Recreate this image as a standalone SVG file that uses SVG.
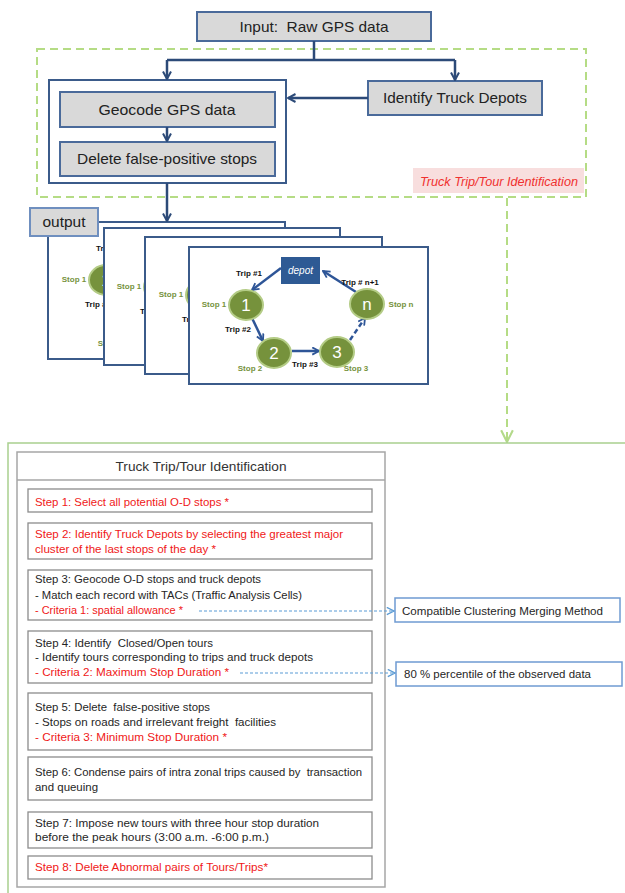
<svg xmlns="http://www.w3.org/2000/svg" xmlns:xlink="http://www.w3.org/1999/xlink" width="625" height="893" viewBox="0 0 625 893">
<style>
text{white-space:pre}
.gbox{fill:#d9d9d9;stroke:#4a6a9a;stroke-width:2}
.ttl{font-family:"Liberation Sans",Arial,sans-serif;font-size:15px;fill:#222;text-anchor:middle}
.conn{fill:none;stroke:#2c4a78;stroke-width:2.5}
.card{fill:#fff;stroke:#3b5b8a;stroke-width:2}
.node{fill:#76923c;stroke:#b4cc86;stroke-width:2}
.ntx{font-family:"Liberation Sans",Arial,sans-serif;font-size:17px;fill:#fff;text-anchor:middle}
.stop{font-family:"Liberation Sans",Arial,sans-serif;font-size:8px;font-weight:bold;fill:#76923c;text-anchor:middle}
.trip{font-family:"Liberation Sans",Arial,sans-serif;font-size:8px;font-weight:bold;fill:#111;text-anchor:middle}
.tarr{fill:none;stroke:#2e5597;stroke-width:2.5}
.step{fill:#fff;stroke:#8c8c8c;stroke-width:1.3}
.st{font-family:"Liberation Sans",Arial,sans-serif;font-size:11.5px;fill:#262626}
.red{fill:#f01818}
.side{fill:#fff;stroke:#6f9bd2;stroke-width:1.5}
.bd{fill:none;stroke:#5b9bd5;stroke-width:1.2;stroke-dasharray:3,2}
</style>
<defs>
<marker id="ah" viewBox="0 0 10 10" refX="9" refY="5" markerWidth="10" markerHeight="10" markerUnits="userSpaceOnUse" orient="auto"><path d="M1.5,1 L9,5 L1.5,9" fill="none" stroke="#2c4a78" stroke-width="2"/></marker>
<marker id="ah2" viewBox="0 0 10 10" refX="9" refY="5" markerWidth="9" markerHeight="9" markerUnits="userSpaceOnUse" orient="auto"><path d="M1.5,1 L9,5 L1.5,9" fill="none" stroke="#2e5597" stroke-width="2"/></marker>
<marker id="ahg" viewBox="0 0 12 12" refX="11" refY="6" markerWidth="14" markerHeight="14" markerUnits="userSpaceOnUse" orient="auto"><path d="M1,1 L11,6 L1,11" fill="none" stroke="#b3d98a" stroke-width="1.8"/></marker>
<marker id="ahb" viewBox="0 0 10 10" refX="9" refY="5" markerWidth="9" markerHeight="9" markerUnits="userSpaceOnUse" orient="auto"><path d="M1,1 L9,5 L1,9" fill="none" stroke="#5b9bd5" stroke-width="1.5"/></marker>
<g id="tour">
<line class="tarr" x1="281" y1="268" x2="252" y2="290" marker-end="url(#ah2)"/>
<line class="tarr" x1="252" y1="318" x2="263" y2="341" marker-end="url(#ah2)"/>
<line class="tarr" x1="292" y1="351" x2="319" y2="351" marker-end="url(#ah2)"/>
<line class="tarr" x1="350" y1="340" x2="365" y2="318" stroke-dasharray="5,3" marker-end="url(#ah2)"/>
<line class="tarr" x1="356" y1="292" x2="323" y2="271" marker-end="url(#ah2)"/>
<rect x="281" y="257" width="39" height="27" fill="#2e5a94"/>
<text x="300.5" y="274" font-family="Liberation Sans,Arial,sans-serif" font-size="10" font-style="italic" fill="#fff" text-anchor="middle">depot</text>
<ellipse class="node" cx="246" cy="305" rx="17" ry="15"/>
<ellipse class="node" cx="367" cy="304" rx="17" ry="15"/>
<ellipse class="node" cx="274" cy="353" rx="17" ry="15"/>
<ellipse class="node" cx="337" cy="352" rx="17" ry="15"/>
<text class="ntx" x="246" y="311">1</text>
<text class="ntx" x="367" y="310">n</text>
<text class="ntx" x="274" y="359">2</text>
<text class="ntx" x="337" y="358">3</text>
<text class="stop" x="214" y="307">Stop 1</text>
<text class="stop" x="401" y="307">Stop n</text>
<text class="stop" x="250" y="371">Stop 2</text>
<text class="stop" x="356" y="371">Stop 3</text>
<text class="trip" x="249" y="276">Trip #1</text>
<text class="trip" x="238" y="332">Trip #2</text>
<text class="trip" x="305" y="367">Trip #3</text>
<text class="trip" x="360" y="285">Trip # n+1</text>
</g>
</defs>

<g id="tripTourFrame">
<rect x="37" y="49" width="549" height="148" fill="none" stroke="#b5dc85" stroke-width="2" stroke-dasharray="8,5"/>
<rect x="413" y="168" width="171" height="25" fill="#f8dede"/>
<text x="499" y="186" font-family="Liberation Sans,Arial,sans-serif" font-size="12" font-style="italic" fill="#f0302f" text-anchor="middle" textLength="158" lengthAdjust="spacingAndGlyphs">Truck Trip/Tour Identification</text>
</g>

<g id="input">
<rect class="gbox" x="197" y="12" width="234" height="29"/>
<text class="ttl" x="314" y="32" textLength="149" lengthAdjust="spacingAndGlyphs">Input:  Raw GPS data</text>
</g>
<g id="container">
<rect x="49" y="80" width="237" height="103" fill="#fff" stroke="#3b5b8a" stroke-width="2"/>
</g>
<g id="geocode">
<rect class="gbox" x="60" y="92" width="215" height="35"/>
<text class="ttl" x="167" y="115" textLength="137" lengthAdjust="spacingAndGlyphs">Geocode GPS data</text>
</g>
<g id="delete">
<rect class="gbox" x="60" y="142" width="215" height="34"/>
<text class="ttl" x="167" y="164" textLength="180" lengthAdjust="spacingAndGlyphs">Delete false-positive stops</text>
</g>
<g id="depots">
<rect class="gbox" x="368" y="81" width="174" height="34"/>
<text class="ttl" x="455" y="103" textLength="144" lengthAdjust="spacingAndGlyphs">Identify Truck Depots</text>
</g>

<g id="cards">
<rect class="card" x="48" y="222" width="237" height="137"/>
<use xlink:href="#tour" href="#tour" transform="translate(-140,-25)"/>
<rect class="card" x="104" y="228" width="236" height="137"/>
<use xlink:href="#tour" href="#tour" transform="translate(-85,-18)"/>
<rect class="card" x="145" y="237" width="237" height="137"/>
<use xlink:href="#tour" href="#tour" transform="translate(-43,-10)"/>
<rect class="card" x="189" y="247" width="239" height="137"/>
<use xlink:href="#tour" href="#tour"/>
</g>
<g id="output">
<rect x="30" y="208" width="68" height="28" fill="#d9d9d9" stroke="#6f8fbf" stroke-width="2"/>
<text x="64" y="227" font-family="Liberation Sans,Arial,sans-serif" font-size="14" fill="#222" text-anchor="middle" textLength="43" lengthAdjust="spacingAndGlyphs">output</text>
</g>

<g id="connectors">
<polyline class="conn" points="314,41 314,60"/>
<polyline class="conn" points="167,60 455,60"/>
<line class="conn" x1="167" y1="60" x2="167" y2="79" marker-end="url(#ah)"/>
<line class="conn" x1="455" y1="60" x2="455" y2="80" marker-end="url(#ah)"/>
<line class="conn" x1="368" y1="98" x2="288" y2="98" marker-end="url(#ah)"/>
<line class="conn" x1="167" y1="127" x2="167" y2="141" marker-end="url(#ah)"/>
<line class="conn" x1="167" y1="183" x2="167" y2="221" marker-end="url(#ah)"/>
<line x1="507" y1="198" x2="507" y2="442" fill="none" stroke="#b5dc85" stroke-width="2" stroke-dasharray="8,5" marker-end="url(#ahg)"/>
</g>

<g id="procFrame">
<rect x="8" y="443" width="640" height="470" fill="none" stroke="#a9d08e" stroke-width="1.5"/>
<rect x="17" y="452" width="368" height="435" fill="#fff" stroke="#a6a6a6" stroke-width="1.5"/>
<line x1="17" y1="480" x2="385" y2="480" stroke="#a6a6a6" stroke-width="1.5"/>
<text x="201" y="471" font-family="Liberation Sans,Arial,sans-serif" font-size="13" fill="#333" text-anchor="middle" textLength="171" lengthAdjust="spacingAndGlyphs">Truck Trip/Tour Identification</text>
</g>

<g id="step1">
<rect class="step" x="28" y="489" width="344" height="23"/>
<text class="st red" x="35" y="506" textLength="194" lengthAdjust="spacingAndGlyphs">Step 1: Select all potential O-D stops *</text>
</g>
<g id="step2">
<rect class="step" x="28" y="523" width="344" height="36"/>
<text class="st red" x="35" y="538" textLength="308" lengthAdjust="spacingAndGlyphs">Step 2: Identify Truck Depots by selecting the greatest major</text>
<text class="st red" x="35" y="553" textLength="181" lengthAdjust="spacingAndGlyphs">cluster of the last stops of the day *</text>
</g>
<g id="step3">
<rect class="step" x="28" y="570" width="344" height="50"/>
<text class="st" x="35" y="583" textLength="226" lengthAdjust="spacingAndGlyphs">Step 3: Geocode O-D stops and truck depots</text>
<text class="st" x="35" y="599" textLength="267" lengthAdjust="spacingAndGlyphs">- Match each record with TACs (Traffic Analysis Cells)</text>
<text class="st red" x="35" y="614" textLength="148" lengthAdjust="spacingAndGlyphs">- Criteria 1: spatial allowance *</text>
</g>
<g id="step4">
<rect class="step" x="28" y="631" width="344" height="52"/>
<text class="st" x="35" y="647" textLength="178" lengthAdjust="spacingAndGlyphs">Step 4: Identify  Closed/Open tours</text>
<text class="st" x="35" y="661" textLength="278" lengthAdjust="spacingAndGlyphs">- Identify tours corresponding to trips and truck depots</text>
<text class="st red" x="35" y="676" textLength="194" lengthAdjust="spacingAndGlyphs">- Criteria 2: Maximum Stop Duration *</text>
</g>
<g id="step5">
<rect class="step" x="28" y="693" width="344" height="57"/>
<text class="st" x="35" y="711" textLength="175" lengthAdjust="spacingAndGlyphs">Step 5: Delete  false-positive stops</text>
<text class="st" x="35" y="726" textLength="241" lengthAdjust="spacingAndGlyphs">- Stops on roads and irrelevant freight  facilities</text>
<text class="st red" x="35" y="741" textLength="192" lengthAdjust="spacingAndGlyphs">- Criteria 3: Minimum Stop Duration *</text>
</g>
<g id="step6">
<rect class="step" x="28" y="757" width="344" height="43"/>
<text class="st" x="35" y="776" textLength="327" lengthAdjust="spacingAndGlyphs">Step 6: Condense pairs of intra zonal trips caused by  transaction</text>
<text class="st" x="35" y="791" textLength="63" lengthAdjust="spacingAndGlyphs">and queuing</text>
</g>
<g id="step7">
<rect class="step" x="28" y="812" width="344" height="36"/>
<text class="st" x="35" y="827" textLength="284" lengthAdjust="spacingAndGlyphs">Step 7: Impose new tours with three hour stop duration</text>
<text class="st" x="35" y="841" textLength="234" lengthAdjust="spacingAndGlyphs">before the peak hours (3:00 a.m. -6:00 p.m.)</text>
</g>
<g id="step8">
<rect class="step" x="28" y="856" width="344" height="23"/>
<text class="st red" x="35" y="871" textLength="233" lengthAdjust="spacingAndGlyphs">Step 8: Delete Abnormal pairs of Tours/Trips*</text>
</g>

<g id="clustering">
<rect class="side" x="395" y="598" width="225" height="24"/>
<text class="st" x="402" y="615" textLength="201" lengthAdjust="spacingAndGlyphs">Compatible Clustering Merging Method</text>
</g>
<g id="percentile">
<rect class="side" x="396" y="662" width="226" height="24"/>
<text class="st" x="404" y="678" textLength="187" lengthAdjust="spacingAndGlyphs">80 % percentile of the observed data</text>
</g>

<g id="criteriaLinks">
<line class="bd" x1="199" y1="611" x2="394" y2="611" marker-end="url(#ahb)"/>
<line class="bd" x1="240" y1="673" x2="395" y2="673" marker-end="url(#ahb)"/>
</g>
</svg>
